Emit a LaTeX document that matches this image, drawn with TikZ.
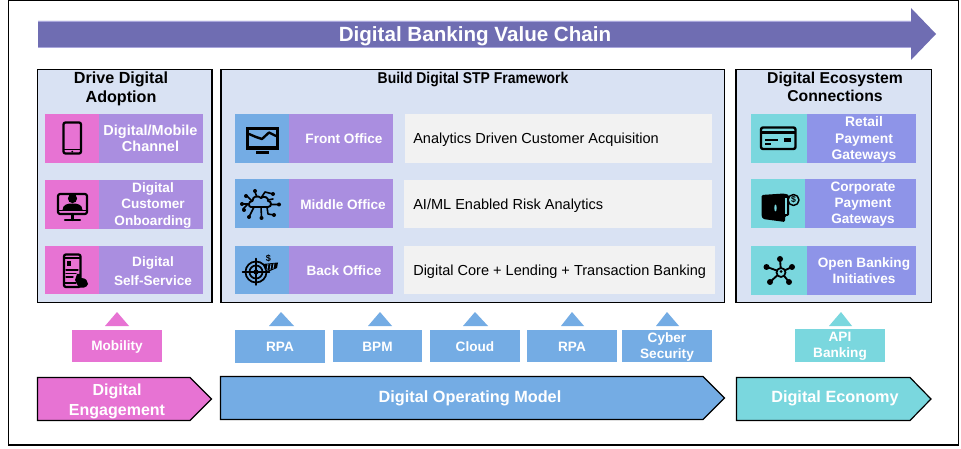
\documentclass[tikz,border=0pt]{standalone}
\usepackage{fontspec}
\setmainfont{Liberation Sans}
\newfontfamily\narrowsans[FakeStretch=0.89]{Liberation Sans}
\definecolor{cpink}{HTML}{E773D3}
\definecolor{cpurple}{HTML}{AA8EE0}
\definecolor{cblue}{HTML}{74ACE4}
\definecolor{cteal}{HTML}{7AD7DE}
\definecolor{clav}{HTML}{8E94E8}
\definecolor{cpanel}{HTML}{D9E2F3}
\definecolor{cgrey}{HTML}{F2F2F2}
\definecolor{carrow}{HTML}{6F6DB2}
\definecolor{cedge}{HTML}{A9A6DC}
\tikzset{
  x=0.75pt,y=-0.75pt,
  whitetxt/.style={text=white,font=\bfseries\fontsize{10.2}{12}\selectfont,align=center,inner sep=0pt,yshift=-1.1pt},
  headtxt/.style={text=black,font=\bfseries\fontsize{12.1}{14.2}\selectfont,align=center,inner sep=0pt,yshift=-0.6pt},
  bodytxt/.style={text=black,font=\fontsize{10.9}{12}\selectfont,anchor=west,inner sep=0pt,yshift=-0.6pt},
  bandtxt/.style={text=white,font=\bfseries\fontsize{12.2}{14.4}\selectfont,align=center,inner sep=0pt,yshift=-1.1pt},
  panel/.style={fill=cpanel,draw=black,line width=0.9pt},
  band/.style={draw=black,line width=0.9pt},
  ico/.style={draw=black,line width=1.1pt,fill=none,line cap=round,line join=round},
}
\begin{document}
\begin{tikzpicture}
\useasboundingbox (0,0) rectangle (961,449);
\fill[white] (0,0) rectangle (961,449);
\draw[black,line width=0.9pt] (8.5,0.5) rectangle (958.5,445);

% top arrow
\path[fill=carrow] (38,21) -- (911,21) -- (911,8) -- (936,34) -- (911,60) -- (911,47) -- (38,47) -- cycle;
\draw[cedge,line width=0.6pt] (38,21) -- (911,21) (38,47) -- (911,47);
\node[text=white,font=\bfseries\fontsize{15.45}{18}\selectfont,inner sep=0pt,yshift=-1.4pt] (title) at (475,34.5) {Digital Banking Value Chain};

% panels
\draw[panel] (37.5,69.5) rectangle (212,302.5);
\draw[panel] (221,69.5) rectangle (724.5,302.5);
\draw[panel] (736,69.5) rectangle (931.5,302.5);
\node[headtxt] (h1) at (121,88) {Drive Digital\\Adoption};
\node[headtxt,font=\narrowsans\bfseries\fontsize{11.75}{12}\selectfont] (h2) at (473,79) {Build Digital STP Framework};
\node[headtxt,font=\bfseries\fontsize{11.8}{13.6}\selectfont] (h3) at (835,86.5) {Digital Ecosystem\\Connections};

% left rows
\fill[cpink] (45,114) rectangle (99,163);
\fill[cpurple] (99,114) rectangle (203,163);
\fill[cpink] (45,180) rectangle (99,229);
\fill[cpurple] (99,180) rectangle (203,229);
\fill[cpink] (45,246) rectangle (99,294);
\fill[cpurple] (99,246) rectangle (203,294);
\node[whitetxt,font=\bfseries\fontsize{10.85}{12}\selectfont] (l1) at (150.5,137) {Digital/Mobile\\Channel};
\node[whitetxt,font=\bfseries\fontsize{10.2}{12.4}\selectfont] (l2) at (153,204) {Digital\\Customer\\Onboarding};
\node[whitetxt,font=\bfseries\fontsize{10.2}{14.6}\selectfont] (l3) at (153,269.5) {Digital\\Self-Service};

% centre rows
\fill[cblue] (235,114) rectangle (289,163);
\fill[cpurple] (289,114) rectangle (393,163);
\fill[cblue] (235,179) rectangle (289,228);
\fill[cpurple] (289,179) rectangle (393,228);
\fill[cblue] (235,246) rectangle (289,294);
\fill[cpurple] (289,246) rectangle (393,294);
\fill[cgrey] (405,114) rectangle (712,163);
\fill[cgrey] (404,180) rectangle (712,228);
\fill[cgrey] (404,246) rectangle (715,294);
\node[whitetxt] (c1) at (344,137.5) {Front Office};
\node[whitetxt] (c2) at (343,203.5) {Middle Office};
\node[whitetxt] (c3) at (344,269.5) {Back Office};
\node[bodytxt] (g1) at (413,138.5) {Analytics Driven Customer Acquisition};
\node[bodytxt] (g2) at (413,204.5) {AI/ML Enabled Risk Analytics};
\node[bodytxt] (g3) at (413,270.5) {Digital Core + Lending + Transaction Banking};

% right rows
\fill[cteal] (751,114) rectangle (807,163);
\fill[clav] (807,114) rectangle (916,163);
\fill[cteal] (751,179) rectangle (805,228);
\fill[clav] (805,179) rectangle (916,228);
\fill[cteal] (751,246) rectangle (807,295);
\fill[clav] (807,246) rectangle (916,295);
\node[whitetxt,font=\bfseries\fontsize{10.4}{12.1}\selectfont] (r1) at (864,138) {Retail\\Payment\\Gateways};
\node[whitetxt] (r2) at (863,203) {Corporate\\Payment\\Gateways};
\node[whitetxt] (r3) at (864,269.5) {Open Banking\\Initiatives};

% small triangles
\fill[cpink] (105,326) -- (117,312) -- (129,326) -- cycle;
\fill[cblue] (269,326) -- (281,312) -- (294,326) -- cycle;
\fill[cblue] (368,326) -- (380,312) -- (392,326) -- cycle;
\fill[cblue] (463,326) -- (475,312) -- (488,326) -- cycle;
\fill[cblue] (561,326) -- (572,312) -- (584,326) -- cycle;
\fill[cblue] (656,326) -- (667,312) -- (679,326) -- cycle;
\fill[cteal] (829,326) -- (841,312) -- (852,326) -- cycle;

% enablers
\fill[cpink] (72,330) rectangle (162,362);
\fill[cblue] (235,330) rectangle (325,363);
\fill[cblue] (333,330) rectangle (422,362);
\fill[cblue] (430,330) rectangle (520,362);
\fill[cblue] (527,330) rectangle (617,362);
\fill[cblue] (622,330) rectangle (712,362);
\fill[cteal] (795,329) rectangle (885,362);
\node[whitetxt] (e1) at (117,345.5) {Mobility};
\node[whitetxt] (e2) at (280,345.5) {RPA};
\node[whitetxt] (e3) at (377.5,345.5) {BPM};
\node[whitetxt] (e4) at (475,345.5) {Cloud};
\node[whitetxt] (e5) at (572,345.5) {RPA};
\node[whitetxt] (e6) at (667,345.5) {Cyber\\Security};
\node[whitetxt] (e7) at (840,344.5) {API\\Banking};

% bottom bands
\draw[band,fill=cpink] (37.5,377.5) -- (190,377.5) -- (211.5,399) -- (190,420.5) -- (37.5,420.5) -- cycle;
\draw[band,fill=cblue] (220.5,376.5) -- (703,376.5) -- (724.5,398) -- (703,419.5) -- (220.5,419.5) -- cycle;
\draw[band,fill=cteal] (736.5,377.5) -- (910,377.5) -- (931,399) -- (910,420.5) -- (736.5,420.5) -- cycle;
\node[bandtxt,font=\bfseries\fontsize{12}{15}\selectfont] (b1) at (117,399.5) {Digital\\Engagement};
\node[bandtxt] (b2) at (470,396.5) {Digital Operating Model};
\node[bandtxt] (b3) at (835,396.5) {Digital Economy};

% icon: phone
\draw[ico,line width=1.7pt,rounded corners=1.5pt] (63.5,122.5) rectangle (81,153.5);
\draw[ico,line width=1pt] (64,149.5) -- (80.5,149.5);
\fill (72.3,151.6) circle (1);

% icon: monitor with person
\draw[ico,line width=1.6pt,rounded corners=1.5pt] (58,194) rectangle (87,214);
\draw[ico,line width=1pt] (58,210.5) -- (87,210.5);
\draw[ico,line width=1.6pt] (72.5,214) -- (72.5,220) (65,220.3) -- (80,220.3);
\fill (72.5,198.5) circle (4.6);
\fill (62.5,210) .. controls (63,204.5) and (67,203.5) .. (72.5,203.5) .. controls (78,203.5) and (82,204.5) .. (82.5,210) -- cycle;

% icon: phone with hand
\draw[ico,line width=1.7pt,rounded corners=1.5pt] (64,254.5) rectangle (80.5,287);
\fill (67,261) rectangle (71,266);
\draw[ico,line width=1pt] (66,270) -- (78,270) (66,273.5) -- (76,273.5) (66,277) -- (73,277) (64,258) -- (80.5,258) (64,283) -- (76,283);
\fill (77,274) -- (80,274) -- (81,278) .. controls (86,278) and (88,281) .. (88,284) .. controls (87,288) and (81,289) .. (78,286) -- (75,280) -- cycle;

% icon: front office monitor
\fill (246,127) rectangle (279,150);
\fill[cblue] (249,130) rectangle (276,146);
\draw[ico,line width=1.8pt] (249,134) -- (256,137) -- (262,139) -- (269,132.5) -- (276,136);
\fill (256,151) rectangle (269,154);

% icon: cloud network
\draw[ico,line width=1.4pt] (251,207) .. controls (248,207) and (248,201) .. (252.5,201) .. controls (252.5,196) and (258,195) .. (261,198) .. controls (264,195) and (269,198) .. (268,201) .. controls (272,201) and (272,207) .. (268,207) -- cycle;
\draw[ico,line width=1.2pt] (252,201) -- (247,196) (261,198) -- (265,192) -- (273,194) (268,200) -- (273,199) (271,204.5) -- (279,204.5)
  (248,204) -- (242,204) (248,204) -- (243,209) (254,207) -- (249,217) (261,207) -- (261.5,217) (267,207) -- (268,214) -- (274,215) (255,192) -- (257,197);
\foreach \px/\py in {246/196,255/191,273/194,279/204.5,242/204,244/210,249/217,261.5/218,274/215}{\fill (\px,\py) circle (2);}

% icon: target and coin
\draw[ico,line width=1.3pt] (256,272) circle (10.5);
\draw[ico,line width=1.3pt] (256,272) circle (6.5);
\fill (256,272) circle (2.6);
\draw[ico,line width=1.1pt] (256,258.5) -- (256,285) (242.5,272) -- (269.5,272);
\node[font=\bfseries\fontsize{6.8}{7}\selectfont,inner sep=0pt] (dollar) at (268.5,258) {\$};
\fill[black] (263,264) -- (278,262.5) -- (277,268) -- (270,271) -- (265,270) -- cycle;
\draw[cblue,line width=0.6pt] (268,264) -- (267,270) (271,264) -- (270,270) (274,263.5) -- (273,269);

% icon: card
\draw[ico,line width=1.8pt,rounded corners=1.5pt] (761,127.5) rectangle (795.5,149);
\fill (761,131) rectangle (795.5,134.5);
\fill (765,139) rectangle (778,141);
\fill (765,143) rectangle (771,145);
\fill (784,138.5) rectangle (791,142);

% icon: wallet
\fill[rounded corners=1pt] (761.5,195) -- (784,193.5) -- (789,195) -- (789,216) -- (785,216) -- (785,222) -- (763,219) -- (761.5,216) -- cycle;
\fill[cteal] (775.5,208) ellipse (1.2 and 3.5);
\fill[cteal] (785,198) rectangle (786.5,214);
\draw[ico,line width=1.1pt,fill=cteal] (793.5,200) circle (5.5);
\node[font=\bfseries\fontsize{6.5}{7}\selectfont,inner sep=0pt] (wd) at (793.5,200) {\$};

% icon: network
\draw[ico,line width=1.4pt] (767,267) -- (781,272) (780,259) -- (781,272) (792,267) -- (781,272) (770,282) -- (781,272) (789,282) -- (781,272);
\foreach \px/\py in {780/259,766.5/267,792/267,770/282,789/282}{\fill (\px,\py) circle (3);}
\draw[ico,line width=1.3pt,fill=cteal] (781,272.5) circle (4.5);
\fill (781,271.5) circle (1.5);
\end{tikzpicture}
\end{document}
